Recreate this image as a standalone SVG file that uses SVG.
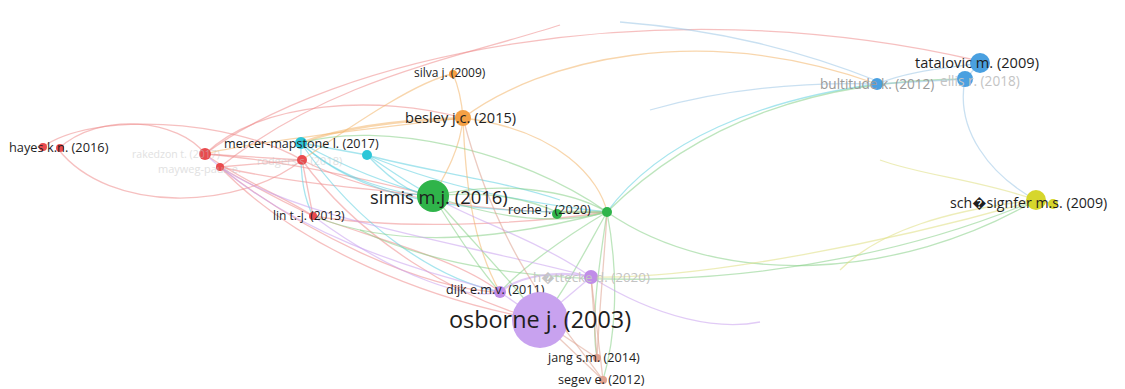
<svg xmlns="http://www.w3.org/2000/svg" width="1125" height="389" viewBox="0 0 1125 389">
<style>
text{font-family:"Open Sans","Noto Sans","Liberation Sans",sans-serif;fill:#1e1e1e}
.faint{fill:#c4c4c4}
.e{fill:none;stroke-width:1.3;opacity:0.55}
.r{stroke:#ee8c8c}.c{stroke:#5fd0e0}.o{stroke:#f3b56a}.g{stroke:#86d086}.p{stroke:#c9a0ee}.s{stroke:#dca08e}.b{stroke:#9cc6e6}.y{stroke:#dede80}
</style>
<rect width="1125" height="389" fill="#ffffff"/>
<g id="connectors">
<!-- red -->
<path class="e r" d="M43,147 C90,112 230,118 302,160"/>
<path class="e r" d="M58,149 C110,215 240,210 302,160"/>
<path class="e r" d="M58,149 C100,110 180,120 205,154"/>
<path class="e r" d="M205,154 L302,160"/>
<path class="e r" d="M220,167 L302,160"/>
<path class="e r" d="M205,154 C240,180 290,200 313,216"/>
<path class="e r" d="M220,167 C260,190 290,205 313,216"/>
<path class="e r" d="M220,167 C300,185 380,190 433,196"/>
<path class="e r" d="M205,154 C280,160 370,180 433,196"/>
<path class="e r" d="M220,167 C300,230 420,290 500,292"/>
<path class="e r" d="M220,167 C300,250 430,300 540,320"/>
<path class="e r" d="M302,160 L313,216"/>
<path class="e r" d="M302,160 C380,200 500,215 607,212"/>
<path class="e r" d="M302,160 C360,240 460,300 540,320"/>
<path class="e r" d="M313,216 C400,230 520,225 607,212"/>
<path class="e r" d="M313,216 C380,240 460,260 500,292"/>
<path class="e r" d="M205,154 C260,100 380,95 463,118"/>
<path class="e r" d="M205,154 C330,60 650,-15 975,60"/>
<path class="e r" d="M220,167 C330,80 450,60 560,25"/>
<!-- cyan -->
<path class="e c" d="M301,143 L367,155"/>
<path class="e c" d="M301,143 C350,170 390,185 433,196"/>
<path class="e c" d="M301,143 C340,180 400,195 433,196"/>
<path class="e c" d="M367,155 C390,170 410,185 433,196"/>
<path class="e c" d="M367,155 C400,190 420,195 433,196"/>
<path class="e c" d="M301,143 C300,180 305,200 313,216"/>
<path class="e c" d="M367,155 C450,190 540,205 607,212"/>
<path class="e c" d="M301,143 C360,200 460,210 557,212"/>
<path class="e c" d="M301,143 C360,230 440,280 500,292"/>
<path class="e c" d="M607,212 C660,140 760,100 877,84"/>
<path class="e c" d="M367,155 C420,170 500,180 560,200"/>
<!-- orange -->
<path class="e o" d="M453,74 C460,90 462,105 463,118"/>
<path class="e o" d="M463,118 C400,120 340,128 301,143" style="stroke-width:2.5"/>
<path class="e o" d="M463,118 C400,125 260,140 205,154"/>
<path class="e o" d="M463,118 C460,150 445,175 433,196"/>
<path class="e o" d="M463,118 C465,170 470,240 500,292"/>
<path class="e o" d="M463,118 C560,130 600,180 607,212"/>
<path class="e o" d="M463,118 C540,60 700,20 877,84"/>
<path class="e o" d="M453,74 C420,80 360,120 302,160"/>
<!-- green -->
<path class="e g" d="M433,196 C490,190 530,200 557,212"/>
<path class="e g" d="M433,196 C500,180 570,190 607,212"/>
<path class="e g" d="M433,196 C500,220 560,225 607,212"/>
<path class="e g" d="M557,212 L607,212" style="stroke-width:2.5"/>
<path class="e g" d="M433,196 C480,250 520,290 540,320"/>
<path class="e g" d="M433,196 C460,240 480,270 500,292"/>
<path class="e g" d="M607,212 C580,260 560,300 540,320"/>
<path class="e g" d="M607,212 C560,240 520,270 500,292"/>
<path class="e g" d="M607,212 C600,260 590,320 597,358"/>
<path class="e g" d="M607,212 C620,280 615,340 603,380"/>
<path class="e g" d="M607,212 C700,120 820,80 965,79"/>
<path class="e g" d="M607,212 C720,290 900,280 1036,200"/>
<path class="e g" d="M360,230 C500,300 800,300 1036,200"/>
<path class="e g" d="M301,143 C380,120 520,150 607,212"/>
<path class="e g" d="M313,216 C400,250 500,240 607,212"/>
<!-- purple -->
<path class="e p" d="M500,292 L540,320"/>
<path class="e p" d="M591,277 L540,320"/>
<path class="e p" d="M591,277 C560,270 520,275 500,292" style="stroke-width:2.2"/>
<path class="e p" d="M591,277 C450,240 300,220 220,167"/>
<path class="e p" d="M500,292 C420,270 300,240 205,154"/>
<path class="e p" d="M591,277 C660,320 720,330 760,322"/>
<path class="e p" d="M591,277 C540,240 460,215 433,196"/>
<path class="e p" d="M313,216 C400,280 470,300 500,292"/>
<!-- salmon -->
<path class="e s" d="M597,358 L540,320"/>
<path class="e s" d="M603,380 L540,320"/>
<path class="e s" d="M597,358 L591,277"/>
<path class="e s" d="M603,380 L591,277"/>
<path class="e s" d="M597,358 C600,300 605,250 607,212"/>
<path class="e s" d="M603,380 C560,320 500,260 463,118"/>
<!-- blue -->
<path class="e b" d="M980,63 L965,79"/>
<path class="e b" d="M877,84 C910,70 950,68 980,63"/>
<path class="e b" d="M877,84 L965,79"/>
<path class="e b" d="M965,79 C955,130 990,175 1036,200"/>
<path class="e b" d="M880,82 C800,50 720,30 620,22"/>
<path class="e b" d="M877,84 C800,82 720,90 650,110"/>
<!-- yellow -->
<path class="e y" d="M1036,200 C900,240 700,280 591,277"/>
<path class="e y" d="M1036,200 C950,210 880,230 840,270"/>
<path class="e y" d="M1036,200 C980,180 920,175 880,160"/>
<path class="e y" d="M1053,204 L1036,200"/>
</g>
<g id="n-hayes"><circle cx="43" cy="147" r="4" fill="#e94b4e"/><circle cx="60" cy="148" r="4" fill="#e94b4e"/><text x="9" y="152" font-size="12.8">hayes k.n. (2016)</text></g>
<g id="n-rakedzon"><circle cx="205" cy="154" r="6" fill="#e94b4e"/><text class="faint" x="132" y="158" font-size="10.5" opacity="0.5">rakedzon t. (2017)</text></g>
<g id="n-mayweg"><circle cx="220" cy="167" r="4" fill="#e94b4e"/><text class="faint" x="158" y="173" font-size="11" opacity="0.5">mayweg-paus e.</text></g>
<g id="n-rodgers"><circle cx="302" cy="160" r="5" fill="#e94b4e"/><text class="faint" x="257" y="165" font-size="11" opacity="0.5">rodgers s. (2018)</text></g>
<g id="n-mercer"><circle cx="301" cy="143" r="6" fill="#2cc6d8"/><text x="224" y="148" font-size="12.6">mercer-mapstone l. (2017)</text></g>
<g id="n-cyan2"><circle cx="367" cy="155" r="5" fill="#2cc6d8"/></g>
<g id="n-lin"><circle cx="313" cy="216" r="4" fill="#e94b4e"/><text x="273" y="220" font-size="12">lin t.-j. (2013)</text></g>
<g id="n-silva"><circle cx="453" cy="74" r="4" fill="#f5a044"/><text x="414" y="77" font-size="12">silva j. (2009)</text></g>
<g id="n-besley"><circle cx="463" cy="118" r="8" fill="#f5a044"/><text x="405" y="123" font-size="14.6">besley j.c. (2015)</text></g>
<g id="n-simis"><circle cx="433" cy="196" r="16" fill="#2fb44a"/><text x="370" y="204" font-size="18.4">simis m.j. (2016)</text></g>
<g id="n-roche"><circle cx="557" cy="214" r="5" fill="#2fb44a"/><circle cx="607" cy="212" r="5" fill="#2fb44a"/><text x="508" y="214" font-size="12.6">roche j. (2020)</text></g>
<g id="n-dijk"><circle cx="500" cy="292" r="6" fill="#c08de8"/><text x="446" y="294" font-size="12.6">dijk e.m.v. (2011)</text></g>
<g id="n-hottecke"><circle cx="591" cy="277" r="7" fill="#c08de8"/><text class="faint" x="533" y="282" font-size="13.4">h�ttecke d. (2020)</text></g>
<g id="n-osborne"><circle cx="540" cy="320" r="28" fill="#c8a2ef"/><text x="449" y="328" font-size="23.4">osborne j. (2003)</text></g>
<g id="n-jang"><circle cx="597" cy="358" r="4" fill="#e0a28e"/><text x="548" y="362" font-size="12.6">jang s.m. (2014)</text></g>
<g id="n-segev"><circle cx="603" cy="380" r="4" fill="#e0a28e"/><text x="558" y="384" font-size="12.6">segev e. (2012)</text></g>
<g id="n-bultitude"><circle cx="877" cy="84" r="6" fill="#4aa0e0"/><text class="faint" x="820" y="89" font-size="13.6" style="fill:#9a9a9a">bultitude k. (2012)</text></g>
<g id="n-ellis"><circle cx="965" cy="79" r="8" fill="#4aa0e0"/><text class="faint" x="940" y="86" font-size="13.6">ellis r. (2018)</text></g>
<g id="n-tatalovic"><circle cx="980" cy="63" r="10" fill="#4aa0e0"/><text x="915" y="68" font-size="14.6">tatalovic m. (2009)</text></g>
<g id="n-schosignfer"><circle cx="1036" cy="200" r="10" fill="#d6d62c"/><circle cx="1053" cy="204" r="5" fill="#d6d62c"/><text x="950" y="208" font-size="14.2">sch�signfer m.s. (2009)</text></g>
</svg>
